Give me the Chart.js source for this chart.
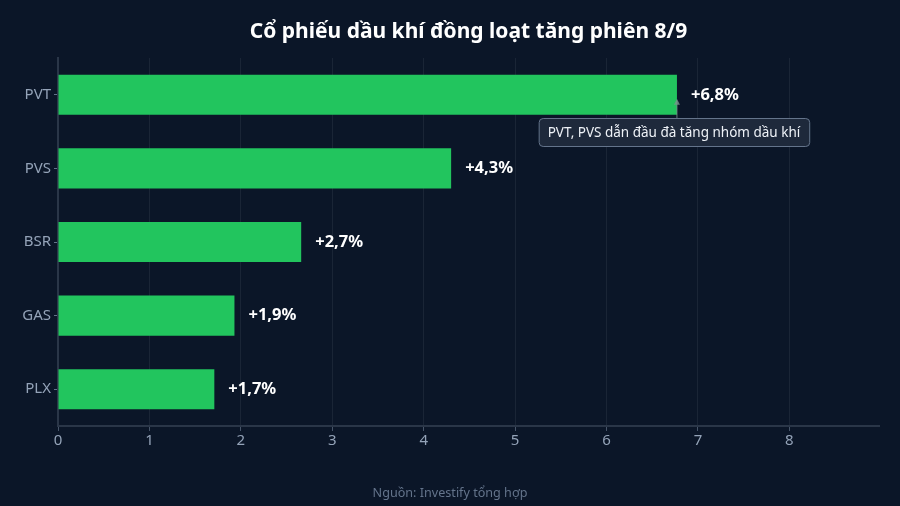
<!DOCTYPE html>
<html>
<head>
<meta charset="utf-8">
<script src="https://cdn.jsdelivr.net/npm/chart.js@4/dist/chart.umd.min.js"></script>
<style>
  html, body { margin: 0; padding: 0; background: #0b1628; }
  #wrap { width: 900px; height: 506px; }
</style>
</head>
<body>
<div id="wrap"><canvas id="chart"></canvas></div>
<script>
const tickers = ["PVT", "PVS", "BSR", "GAS", "PLX"];
const gains = [6.77, 4.3, 2.66, 1.93, 1.71];
const gainLabels = ["+6,8%", "+4,3%", "+2,7%", "+1,9%", "+1,7%"];

const titleText = "Cổ phiếu dầu khí đồng loạt tăng phiên 8/9";
const sourceText = "Nguồn: Investify tổng hợp";
const noteText = "PVT, PVS dẫn đầu đà tăng nhóm dầu khí";

const FONT = "'Noto Sans', 'Open Sans', sans-serif";

// title, source, value labels and the note box
const decorPlugin = {
  id: "decor",
  afterDatasetsDraw(chart) {
    const { ctx, chartArea } = chart;
    const meta = chart.getDatasetMeta(0);
    ctx.save();

    // title
    ctx.fillStyle = "#ffffff";
    ctx.font = "bold 21px " + FONT;
    ctx.textAlign = "center";
    ctx.textBaseline = "middle";
    ctx.fillText(titleText, (chartArea.left + chartArea.right) / 2, 32);

    // source line
    ctx.fillStyle = "#64748b";
    ctx.font = "12.6px " + FONT;
    ctx.fillText(sourceText, 450, 493);

    // value labels
    ctx.fillStyle = "#ffffff";
    ctx.font = "bold 16.5px " + FONT;
    ctx.textAlign = "left";
    meta.data.forEach((bar, i) => {
      ctx.fillText(gainLabels[i], bar.x + 14, bar.y);
    });

    // note with arrow pointing at the PVT bar
    const top = meta.data[0];
    const cx = top.x - 3;
    const boxTop = 118;
    const boxH = 28;
    ctx.font = "13.5px " + FONT;
    const tw = ctx.measureText(noteText).width;
    const boxW = tw + 18;
    const bx = cx - boxW / 2;

    ctx.strokeStyle = "rgba(120, 150, 140, 0.8)";
    ctx.lineWidth = 1;
    ctx.beginPath();
    ctx.moveTo(top.x, boxTop);
    ctx.lineTo(top.x, top.y + 6);
    ctx.stroke();
    ctx.fillStyle = "rgba(120, 150, 140, 0.8)";
    ctx.beginPath();
    ctx.moveTo(top.x, top.y + 4);
    ctx.lineTo(top.x - 3, top.y + 10);
    ctx.lineTo(top.x + 3, top.y + 10);
    ctx.closePath();
    ctx.fill();

    ctx.fillStyle = "#1e293b";
    ctx.strokeStyle = "#64748b";
    ctx.beginPath();
    ctx.roundRect(bx + 0.5, boxTop + 0.5, boxW, boxH, 4);
    ctx.fill();
    ctx.stroke();
    ctx.fillStyle = "#eef2f7";
    ctx.textAlign = "center";
    ctx.fillText(noteText, cx, boxTop + boxH / 2 + 1);

    ctx.restore();
  }
};

new Chart(document.getElementById("chart"), {
  type: "bar",
  data: {
    labels: tickers,
    datasets: [{
      data: gains,
      backgroundColor: "#22c55e",
      borderWidth: 0,
      categoryPercentage: 1,
      barPercentage: 0.545
    }]
  },
  options: {
    indexAxis: "y",
    responsive: true,
    maintainAspectRatio: false,
    animation: false,
    layout: { padding: { top: 58, right: 21, bottom: 0, left: 0 } },
    plugins: {
      legend: { display: false },
      tooltip: { enabled: false }
    },
    scales: {
      x: {
        min: 0,
        max: 8.98,
        afterFit: (scale) => { scale.height = 80; },
        ticks: {
          stepSize: 1,
          includeBounds: false,
          color: "#94a3b8",
          font: { family: FONT, size: 15 },
          padding: 1
        },
        grid: {
          color: "#1a2536",
          tickColor: "#475569",
          tickLength: 5
        },
        border: { color: "#2a3648", width: 2 }
      },
      y: {
        afterFit: (scale) => { scale.width = 58; },
        ticks: {
          color: "#94a3b8",
          font: { family: FONT, size: 15 },
          padding: 3
        },
        grid: {
          display: true,
          offset: false,
          drawOnChartArea: false,
          tickColor: "#64748b",
          tickLength: 4
        },
        border: { color: "#2a3648", width: 2 }
      }
    }
  },
  plugins: [decorPlugin]
});
</script>
</body>
</html>
